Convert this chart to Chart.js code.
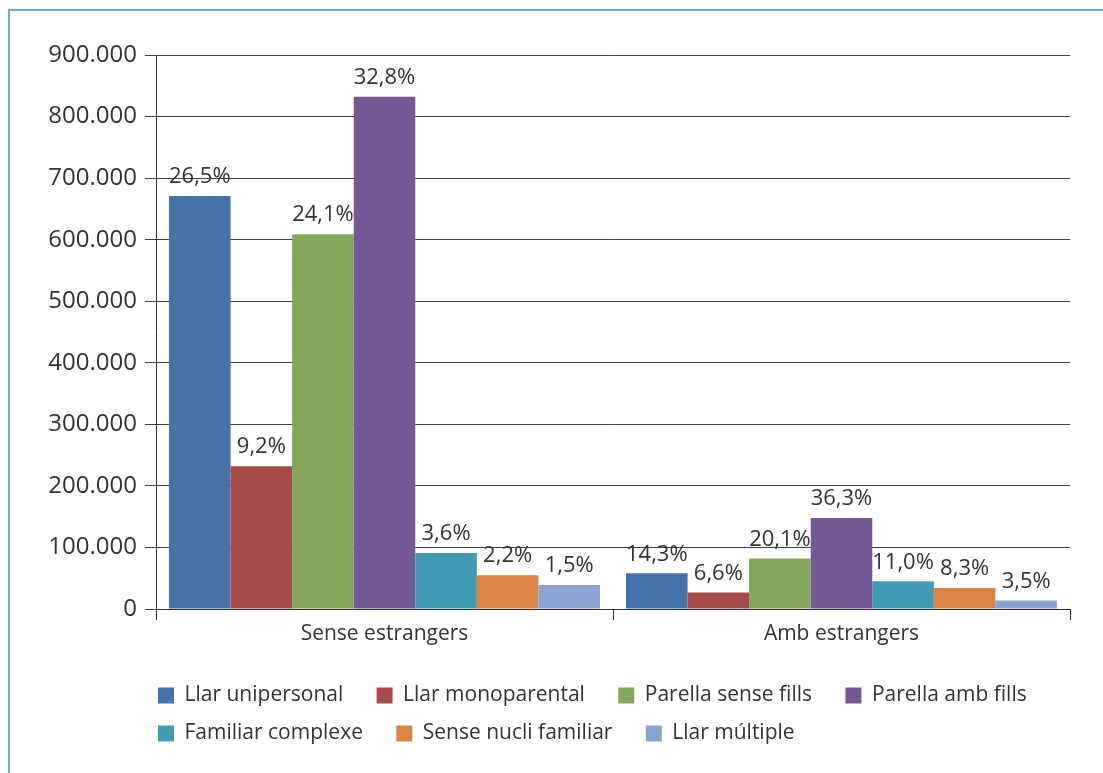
<!DOCTYPE html>
<html>
<head>
<meta charset="utf-8">
<script src="https://cdn.jsdelivr.net/npm/chart.js@4"></script>
<style>
html, body { margin: 0; padding: 0; background: #fff; }
#wrap { position: relative; width: 1103px; height: 773px; overflow: hidden; }
#frame { position: absolute; left: 8px; top: 9px; width: 1200px; height: 900px;
  border-left: 2px solid #6ea9d6; border-top: 2px solid #6ea9d6; }
#chart { position: absolute; left: 0; top: 0; }
</style>
</head>
<body>
<div id="wrap">
  <div id="frame"></div>
  <canvas id="chart" width="1103" height="773"></canvas>
</div>
<script>
var categories = ['Sense estrangers', 'Amb estrangers'];
var seriesNames = ['Llar unipersonal', 'Llar monoparental', 'Parella sense fills', 'Parella amb fills',
  'Familiar complexe', 'Sense nucli familiar', 'Llar múltiple'];
var colors = ['#4473ab', '#a74a4a', '#84a55a', '#735a96', '#409bb3', '#da8446', '#88a3cf'];

// values per household type: [sense estrangers, amb estrangers]
var llarUnipersonal = [671000, 58000];
var llarMonoparental = [232000, 27000];
var parellaSenseFills = [609000, 82000];
var parellaAmbFills = [832000, 148000];
var familiarComplexe = [91000, 45000];
var senseNucli = [55000, 34000];
var llarMultiple = [39000, 14000];

// percentage labels per category
var pctSense = ['26,5%', '9,2%', '24,1%', '32,8%', '3,6%', '2,2%', '1,5%'];
var pctAmb = ['14,3%', '6,6%', '20,1%', '36,3%', '11,0%', '8,3%', '3,5%'];

var yTicksMax = 900000;
var yStep = 100000;

var values = [llarUnipersonal, llarMonoparental, parellaSenseFills, parellaAmbFills,
  familiarComplexe, senseNucli, llarMultiple];

var font = '"Open Sans", "DejaVu Sans", sans-serif';
var txt = '#333333';

var datasets = [];
for (var i = 0; i < seriesNames.length; i++) {
  datasets.push({
    label: seriesNames[i],
    data: values[i],
    pct: [pctSense[i], pctAmb[i]],
    backgroundColor: colors[i],
    borderWidth: 0,
    categoryPercentage: 0.943,
    barPercentage: 1.0
  });
}

var barLabels = {
  id: 'barLabels',
  afterDatasetsDraw: function (chart) {
    var ctx = chart.ctx;
    ctx.save();
    ctx.font = '22px ' + font;
    ctx.fillStyle = txt;
    ctx.textAlign = 'center';
    ctx.textBaseline = 'bottom';
    chart.data.datasets.forEach(function (ds, i) {
      chart.getDatasetMeta(i).data.forEach(function (bar, j) {
        ctx.fillText(ds.pct[j], bar.x, bar.y - 8);
      });
    });
    ctx.restore();
  }
};

// legend starts under the y axis, like the original
var legendShift = {
  id: 'legendShift',
  afterLayout: function (chart) {
    chart.legend.left = 141;
    chart.legend.right = 1103;
  }
};

var myChart = new Chart(document.getElementById('chart'), {
  type: 'bar',
  data: { labels: categories, datasets: datasets },
  plugins: [barLabels, legendShift],
  options: {
    responsive: false,
    animation: false,
    layout: { padding: { left: 30, right: 33, top: 55, bottom: 19 } },
    plugins: {
      tooltip: { enabled: false },
      legend: {
        position: 'bottom',
        align: 'start',
        labels: {
          font: { family: font, size: 21 },
          color: txt,
          boxWidth: 16,
          boxHeight: 16,
          padding: 17,
          generateLabels: function (chart) {
            var items = Chart.defaults.plugins.legend.labels.generateLabels(chart);
            items.forEach(function (it) { it.text = it.text + '   '; });
            return items;
          }
        }
      }
    },
    scales: {
      x: {
        grid: { drawOnChartArea: false, drawTicks: true, tickLength: 11, color: '#333', offset: true },
        border: { color: '#333', width: 1 },
        ticks: { font: { family: font, size: 21 }, color: txt, padding: 1 },
        afterFit: function (scale) { scale.height = 59; }
      },
      y: {
        min: 0,
        max: yTicksMax,
        grid: { color: '#404040', tickLength: 11, lineWidth: 1 },
        border: { color: '#333', width: 1 },
        ticks: {
          stepSize: yStep,
          font: { family: font, size: 24 },
          color: txt,
          padding: 8,
          callback: function (v) { return String(v).replace(/\B(?=(\d{3})+(?!\d))/g, '.'); }
        },
        afterFit: function (scale) { scale.width = 126; }
      }
    }
  }
});
</script>
</body>
</html>
